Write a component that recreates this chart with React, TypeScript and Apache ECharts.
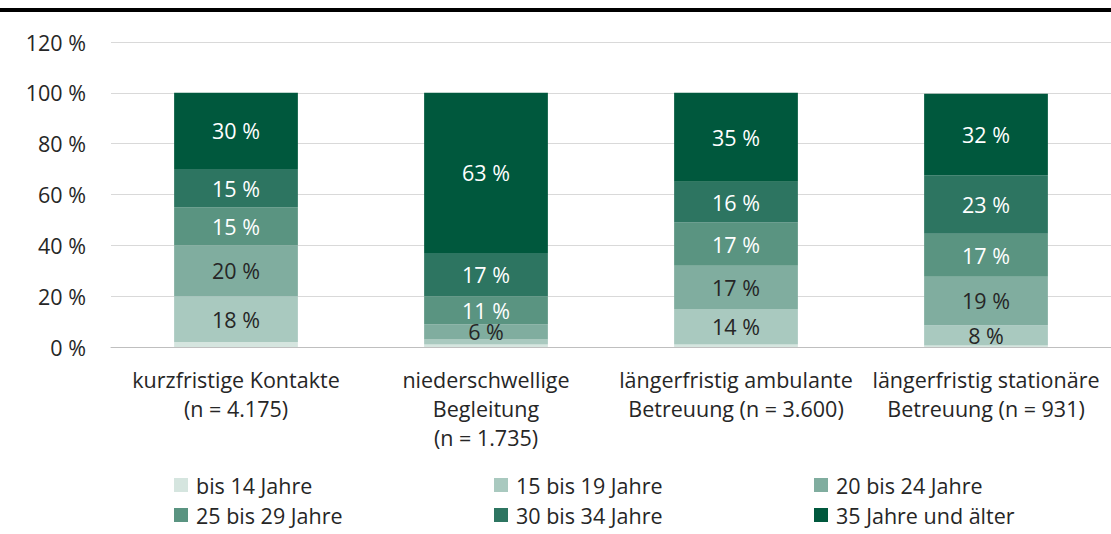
import React, { useEffect, useRef } from "react";
import * as echarts from "echarts";

const categories = [
  "kurzfristige Kontakte\n(n = 4.175)",
  "niederschwellige\nBegleitung\n(n = 1.735)",
  "längerfristig ambulante\nBetreuung (n = 3.600)",
  "längerfristig stationäre\nBetreuung (n = 931)",
];
const seriesNames = [
  "bis 14 Jahre",
  "15 bis 19 Jahre",
  "20 bis 24 Jahre",
  "25 bis 29 Jahre",
  "30 bis 34 Jahre",
  "35 Jahre und älter",
];
const bis14 = [2, 1, 1, 0.6];
const j15bis19 = [18, 2, 14, 8];
const j20bis24 = [20, 6, 17, 19];
const j25bis29 = [15, 11, 17, 17];
const j30bis34 = [15, 17, 16, 23];
const j35plus = [30, 63, 35, 32];
const seriesValues = [bis14, j15bis19, j20bis24, j25bis29, j30bis34, j35plus];
const colors = ["#d5e5df", "#a9c9bf", "#80ad9f", "#5a9481", "#2d7561", "#00583d"];
const labelColors = ["#262626", "#262626", "#262626", "#ffffff", "#ffffff", "#ffffff"];
const yTicks = [0, 20, 40, 60, 80, 100, 120];

const FONT = "'Open Sans', 'Noto Sans', sans-serif";
const FS = 21.5;

export default function App() {
  const ref = useRef<HTMLDivElement>(null);
  useEffect(() => {
    document.body.style.margin = "0";
    const chart = echarts.init(ref.current!, null, { renderer: "svg" });
    const legendPos = [
      [174, 474], [494, 474], [814, 474],
      [174, 504], [494, 504], [814, 504],
    ];
    chart.setOption({
      animation: false,
      textStyle: { fontFamily: FONT },
      grid: { left: 111, right: 0, top: 42, bottom: 187, containLabel: false },
      graphic: [
        { type: "rect", left: 0, top: 8, shape: { width: 1111, height: 4 }, style: { fill: "#000" } },
      ],
      legend: seriesNames.map((n, i) => ({
        data: [n],
        left: legendPos[i][0],
        top: legendPos[i][1],
        itemWidth: 14,
        itemHeight: 14,
        itemGap: 4,
        padding: 0,
        icon: "rect",
        selectedMode: false,
        textStyle: { fontFamily: FONT, fontSize: FS, color: "#262626", padding: [0, 0, 0, 3] },
      })),
      xAxis: {
        type: "category",
        data: categories,
        axisLine: { show: true, lineStyle: { color: "#bfbfbf" } },
        axisTick: { show: false },
        axisLabel: { fontFamily: FONT, fontSize: FS, color: "#262626", lineHeight: 29, margin: 18, interval: 0 },
      },
      yAxis: {
        type: "value",
        min: 0,
        max: 120,
        interval: 20,
        axisLine: { show: false },
        axisTick: { show: false },
        splitLine: { lineStyle: { color: "#d9d9d9" } },
        axisLabel: {
          fontFamily: FONT,
          fontSize: FS,
          color: "#262626",
          margin: 25,
          formatter: (v: number) => (yTicks.includes(v) ? `${v} %` : ""),
        },
      },
      series: seriesNames.map((name, i) => ({
        name,
        type: "bar",
        stack: "total",
        barWidth: "49.5%",
        itemStyle: { color: colors[i] },
        data: seriesValues[i],
        label: {
          show: true,
          position: "inside",
          fontFamily: FONT,
          fontSize: FS,
          color: labelColors[i],
          formatter: (p: any) => (p.value >= 5 ? `${Math.round(p.value)} %` : ""),
        },
      })),
    });
    return () => chart.dispose();
  }, []);
  return <div ref={ref} style={{ width: 1111, height: 534 }} />;
}
